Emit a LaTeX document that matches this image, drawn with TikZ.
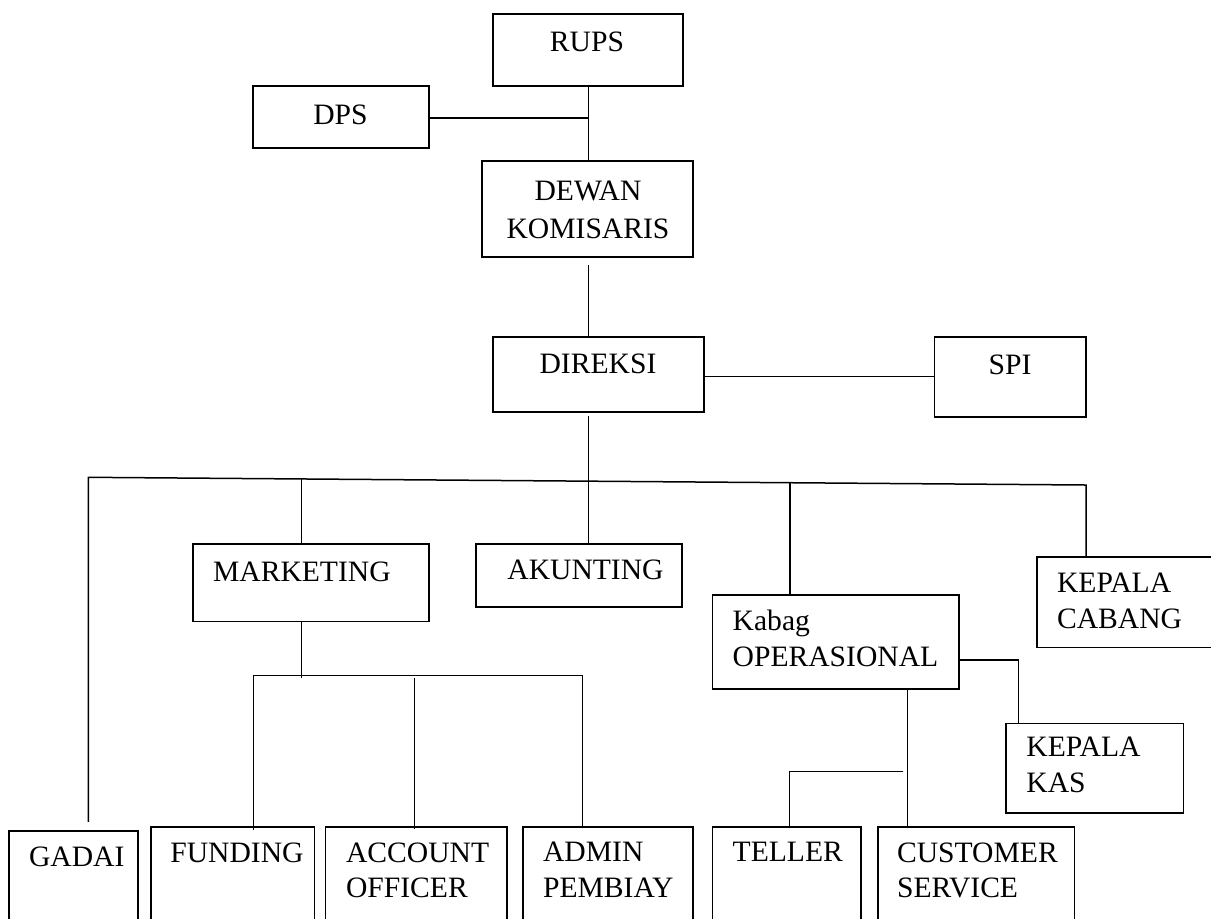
\documentclass[tikz,border=0pt]{standalone}
\usepackage{fontspec}
\setmainfont{Liberation Serif}
\usetikzlibrary{fit}
\begin{document}
\begin{tikzpicture}[x=0.5pt,y=-0.5pt,
  box/.style={draw=black, line width=0.8pt, inner sep=0pt, rectangle},
  conn/.style={draw=black, line width=0.75pt},
  lbl/.style={inner sep=0pt, font=\fontsize{14.8pt}{18pt}\selectfont, text=black},
]
\useasboundingbox (0,0) rectangle (1211,918);
\fill[white] (0,0) rectangle (1211,918);
\clip (0,0) rectangle (1211,918);

% boxes
\node[box, fit={(492.7,14) (682.7,86)}] (rups) {};
\node[box, fit={(253,86) (429,148)}] (dps) {};
\node[box, fit={(482,161) (692.7,257)}] (dewan) {};
\node[box, fit={(492.7,336.7) (703.7,412)}] (direksi) {};
\node[box, fit={(934.3,336.7) (1086,416.7)}] (spi) {};
\node[box, fit={(192.7,544) (429,621.3)}] (marketing) {};
\node[box, fit={(475.7,544) (682,606.7)}] (akunting) {};
\node[box, fit={(712.5,595) (958.7,688.7)}] (kabag) {};
\node[box, fit={(1036.7,557) (1214,647.3)}] (cabang) {};
\node[box, fit={(1006,723.3) (1183.3,812.7)}] (kas) {};
\node[box, fit={(9,830.7) (138,940)}] (gadai) {};
\node[box, fit={(150.7,826.7) (314.3,940)}] (funding) {};
\node[box, fit={(325.3,826.7) (506.7,940)}] (account) {};
\node[box, fit={(522.7,826.7) (692.7,940)}] (admin) {};
\node[box, fit={(712.3,826.7) (861,940)}] (teller) {};
\node[box, fit={(877.7,826.7) (1074.3,940)}] (customer) {};

% texts
\node[lbl, anchor=base] (trups) at (587,51.7) {RUPS};
\node[lbl, anchor=base] (tdps) at (340.5,124.3) {DPS};
\node[lbl, anchor=base] (tdewan1) at (588,200) {DEWAN};
\node[lbl, anchor=base] (tdewan2) at (588,238.3) {KOMISARIS};
\node[lbl, anchor=base] (tdireksi) at (598,373) {DIREKSI};
\node[lbl, anchor=base] (tspi) at (1010,374) {SPI};
\node[lbl, anchor=base west] (tmarketing) at (212.7,581) {MARKETING};
\node[lbl, anchor=base west] (takunting) at (507,579) {AKUNTING};
\node[lbl, anchor=base west] (tkabag1) at (732.3,630) {Kabag};
\node[lbl, anchor=base west] (tkabag2) at (732.3,666.7) {OPERASIONAL};
\node[lbl, anchor=base west] (tcabang1) at (1056.7,592.7) {KEPALA};
\node[lbl, anchor=base west] (tcabang2) at (1056.7,628.3) {CABANG};
\node[lbl, anchor=base west] (tkas1) at (1026,756.7) {KEPALA};
\node[lbl, anchor=base west] (tkas2) at (1026,792.7) {KAS};
\node[lbl, anchor=base west] (tgadai) at (28.7,866) {GADAI};
\node[lbl, anchor=base west] (tfunding) at (170,862.7) {FUNDING};
\node[lbl, anchor=base west] (taccount1) at (345.7,862.7) {ACCOUNT};
\node[lbl, anchor=base west] (taccount2) at (345.7,897.3) {OFFICER};
\node[lbl, anchor=base west] (tadmin1) at (542.7,861.7) {ADMIN};
\node[lbl, anchor=base west] (tadmin2) at (542.7,897.7) {PEMBIAY};
\node[lbl, anchor=base west] (tteller) at (732.3,861.7) {TELLER};
\node[lbl, anchor=base west] (tcust1) at (896.7,862) {CUSTOMER};
\node[lbl, anchor=base west] (tcust2) at (896.7,897.7) {SERVICE};

% junction coordinates
\coordinate (vx) at (588.3,86);
\coordinate (dv) at (588.3,416);
\coordinate (hL) at (88.3,477.3);
\coordinate (hR) at (1086,485);
\coordinate (mT) at (301.7,479);
\coordinate (oT) at (790,482.7);
\coordinate (fT) at (253.3,675.3);
\coordinate (aT) at (414.3,678);
\coordinate (adT) at (582.3,675.3);
\coordinate (k1) at (1018.3,660);
\coordinate (cX) at (907.3,688.7);
\coordinate (tJ) at (903.3,771.3);
\coordinate (tC) at (789.3,771.3);
\coordinate (dpsY) at (0,118);

% connectors
\draw[conn] (vx) -- (vx |- dewan.north);
\draw[conn] (dps.east |- dpsY) -- (vx |- dpsY);
\draw[conn] ([yshift=-3.5pt]vx |- dewan.south) -- (vx |- direksi.north);
\draw[conn] (direksi.east |- spi.west) -- (spi.west);
\draw[conn] (dv) -- (dv |- akunting.north);
\draw[conn] ([yshift=4pt]hL |- gadai.north) -- (hL) -- (hR) -- (hR |- cabang.north);
\draw[conn] (mT) -- (mT |- marketing.north);
\draw[conn] (oT) -- (oT |- kabag.north);
\draw[conn] (mT |- marketing.south) -- ([yshift=-1.4pt]mT |- fT);
\draw[conn] (fT) -- (adT) -- (adT |- admin.north);
\draw[conn] (fT) -- ([yshift=-2pt]fT |- funding.north);
\draw[conn] (aT) -- ([yshift=-1.7pt]aT |- account.north);
\draw[conn] (kabag.east |- k1) -- (k1) -- (k1 |- kas.north);
\draw[conn] (cX |- kabag.south) -- (cX |- customer.north);
\draw[conn] (tJ) -- (tC) -- (tC |- teller.north);
\end{tikzpicture}
\end{document}
